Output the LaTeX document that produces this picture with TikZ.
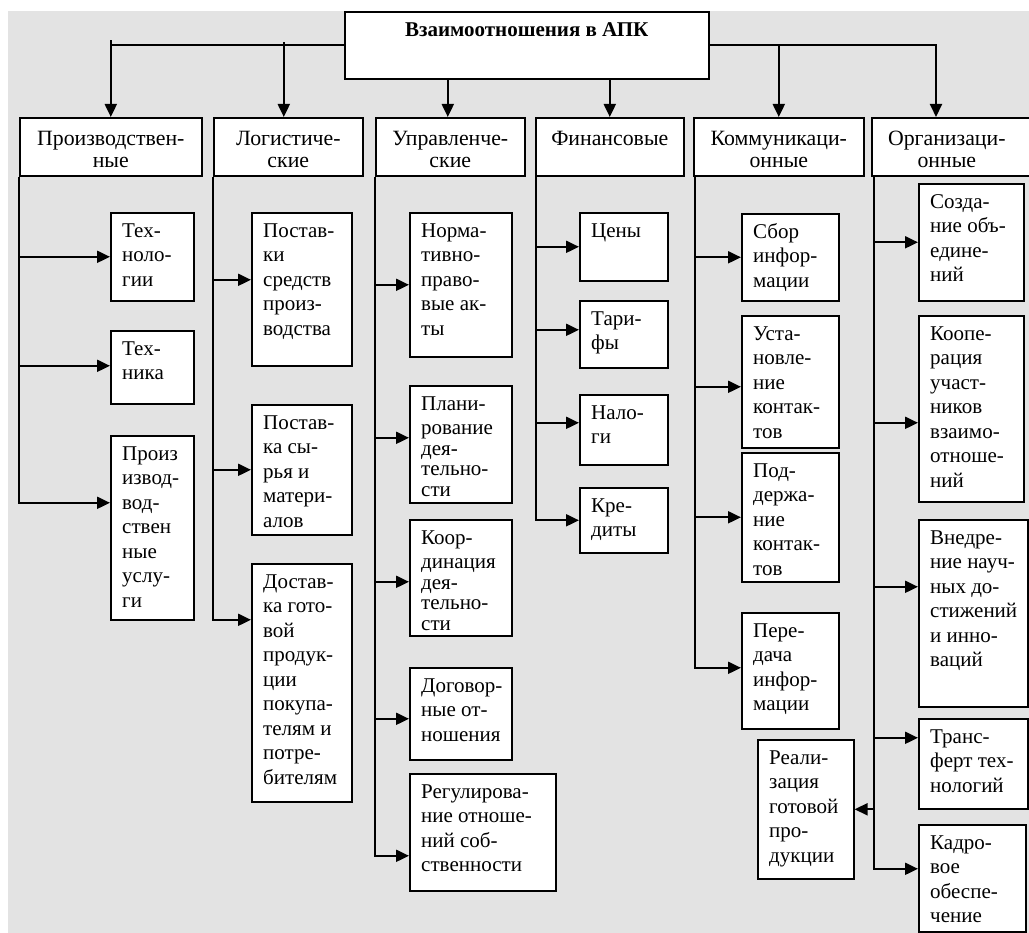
\documentclass[tikz,border=0pt]{standalone}
\usepackage{fontspec}
\setmainfont{Liberation Serif}
\usetikzlibrary{arrows.meta}
\definecolor{bgc}{RGB}{227,227,227}
\tikzset{
  conn/.style={line width=2pt},
  arr/.style={conn, -{Triangle[length=13pt,width=12pt]}},
  bx/.style={draw, line width=1.6pt, fill=white, inner sep=0pt, anchor=north west},
  lbl/.style={anchor=north west, inner sep=0pt, align=left, xshift=12pt, yshift=-7.85pt,
              font=\fontsize{21}{24.5}\selectfont},
  hl/.style={anchor=north, inner sep=0pt, align=center, yshift=-12.95pt,
             font=\fontsize{21.8}{22}\selectfont},
  ttl/.style={anchor=base, inner sep=0pt, yshift=-26pt,
             font=\bfseries\fontsize{21}{22}\selectfont},
}
\newcommand\cbox[6]{\node[bx, minimum width={#4-#2}, minimum height={#5-#3},
  label={[lbl]north west:{\strut #6}}] (#1) at (#2,#3) {};}
\newcommand\lvbox[6]{\node[bx, minimum width={#4-#2}, minimum height={#5-#3},
  label={[hl]north:{\strut #6}}] (#1) at (#2,#3) {};}
\newcommand\link[4]{\draw[arr] ([xshift=#3pt]#1.south west) |- ([yshift=#4pt]#2.west);}
\begin{document}
\begin{tikzpicture}[x=1pt,y=-1pt]
\useasboundingbox (0,0) rectangle (1029,933);
\fill[bgc] (8,11) rectangle (1029,933);

% title
\node[bx, minimum width=364, minimum height=67,
  label={[ttl]north:{Взаимоотношения в АПК}}] (top) at (344,11) {};

% level 1
\lvbox{p1}{19}{117}{201}{175}{Производствен-\\ные}
\lvbox{p2}{213}{117}{362}{175}{Логистиче-\\ские}
\lvbox{p3}{375}{117}{524}{175}{Управленче-\\ские}
\lvbox{p4}{535}{117}{683}{175}{Финансовые}
\lvbox{p5}{693}{117}{863}{175}{Коммуникаци-\\онные}
\node[bx, minimum width=170, minimum height=58,
  label={[hl, xshift=-10pt]north:{\strut Организаци-\\онные}}] (p6) at (871,117) {};

% top connectors
\draw[conn] (top.west) -- (top.west -| p1.north);
\draw[arr] ([yshift=5pt]top.west -| p1.north) -- (p1.north);
\draw[arr] ([xshift=-4.5pt,yshift=3pt]top.west -| p2.north) -- ([xshift=-4.5pt]p2.north);
\draw[arr] ([xshift=-2.5pt]top.south -| p3.north) -- ([xshift=-2.5pt]p3.north);
\draw[arr] (top.south -| p4.north) -- (p4.north);
\draw[arr] (top.east) -| (p5.north);
\draw[arr] (top.east) -| ([xshift=65pt]p6.north west);

% column 1
\cbox{c11}{110}{212}{193}{300}{Тех-\\ноло-\\гии}
\cbox{c12}{110}{330}{193}{403}{Тех-\\ника}
\cbox{c13}{110}{435}{193}{619}{Произ\\извод-\\вод-\\ствен\\ные\\услу-\\ги}
% column 2
\cbox{c21}{251}{212}{351}{365}{Постав-\\ки\\средств\\произ-\\водства}
\cbox{c22}{251}{404}{351}{534}{Постав-\\ка сы-\\рья и\\матери-\\алов}
\cbox{c23}{251}{563}{351}{801}{Достав-\\ка гото-\\вой\\продук-\\ции\\покупа-\\телям и\\потре-\\бителям}
% column 3
\cbox{c31}{409}{212}{511}{356}{Норма-\\тивно-\\право-\\вые ак-\\ты}
\cbox{c32}{409}{385}{511}{502}{Плани-\\рование\\[-4pt]дея-\\[-4pt]тельно-\\[-4pt]сти}
\cbox{c33}{409}{519}{511}{635}{Коор-\\динация\\[-4pt]дея-\\[-4pt]тельно-\\[-4pt]сти}
\cbox{c34}{409}{667}{511}{759}{Договор-\\ные от-\\ношения}
\cbox{c35}{409}{773}{555}{890}{Регулирова-\\ние отноше-\\ний соб-\\ственности}
% column 4
\cbox{c41}{579}{212}{667}{280}{Цены}
\cbox{c42}{579}{300}{667}{367}{Тари-\\фы}
\cbox{c43}{579}{394}{667}{464}{Нало-\\ги}
\cbox{c44}{579}{487}{667}{552}{Кре-\\диты}
% column 5
\cbox{c51}{741}{213}{838}{300}{Сбор\\инфор-\\мации}
\cbox{c52}{741}{315}{838}{447}{Уста-\\новле-\\ние\\контак-\\тов}
\cbox{c53}{741}{452}{838}{581}{Под-\\держа-\\ние\\контак-\\тов}
\cbox{c54}{741}{612}{838}{728}{Пере-\\дача\\инфор-\\мации}
% column 6
\cbox{c61}{918}{183}{1023}{300}{Созда-\\ние объ-\\едине-\\ний}
\cbox{c62}{918}{315}{1023}{501}{Коопе-\\рация\\участ-\\ников\\взаимо-\\отноше-\\ний}
\cbox{c63}{918}{519}{1027}{706}{Внедре-\\ние науч-\\ных до-\\стижений\\и инно-\\ваций}
\cbox{c64}{918}{718}{1027}{808}{Транс-\\ферт тех-\\нологий}
\cbox{c65}{918}{824}{1025}{931}{Кадро-\\вое\\обеспе-\\чение}
\cbox{r}{757}{739}{853}{878}{Реали-\\зация\\готовой\\про-\\дукции}

% branch connectors
\link{p1}{c11}{0}{0}
\link{p1}{c12}{0}{1.5}
\link{p1}{c13}{0}{25}
\link{p2}{c21}{0}{9.5}
\link{p2}{c22}{0}{0}
\link{p2}{c23}{0}{63}
\link{p3}{c31}{0}{0}
\link{p3}{c32}{0}{6.5}
\link{p3}{c33}{0}{-4}
\link{p3}{c34}{0}{-5}
\link{p3}{c35}{0}{-23.5}
\link{p4}{c41}{1}{0}
\link{p4}{c42}{1}{4.5}
\link{p4}{c43}{1}{7}
\link{p4}{c44}{1}{0}
\link{p5}{c51}{2}{0}
\link{p5}{c52}{2}{-5}
\link{p5}{c53}{2}{0}
\link{p5}{c54}{2}{3}
\link{p6}{c61}{3}{0}
\link{p6}{c62}{3}{-14}
\link{p6}{c63}{3}{26.5}
\link{p6}{c64}{3}{26}
\link{p6}{c65}{3}{9.5}
\draw[arr] ([xshift=3pt]p6.south west) |- (r.east);
\end{tikzpicture}
\end{document}
